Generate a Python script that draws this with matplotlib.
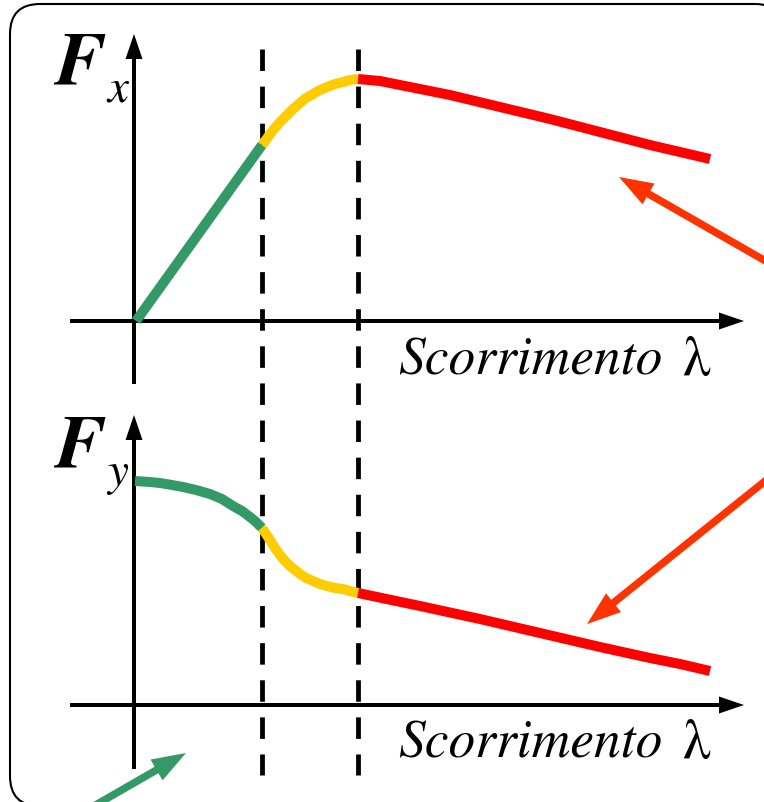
import matplotlib.pyplot as plt
import numpy as np
from matplotlib.patches import FancyArrow, FancyBboxPatch

# Pixel-space canvas
W, H = 764, 803

GREEN = "#339966"
YELLOW = "#FFCC00"
RED = "#FF0000"
ARROW_RED = "#FF3300"

# Fx(lambda): linear, transition, sliding
fx_green_x = [136, 262]
fx_green_y = [322, 146]
fx_yellow_x = [262, 268, 273, 280, 287, 293, 300, 306, 313, 320, 327, 335, 343, 350, 358]
fx_yellow_y = [146, 138, 131, 123, 116, 110, 104, 99, 95, 91, 88, 85, 83, 81, 80]
fx_red_x = [358, 380, 400, 425, 450, 475, 500, 550, 600, 650, 710]
fx_red_y = [80, 82, 86, 91, 96, 102, 108, 120, 133, 146, 160]

# Fy(lambda)
fy_green_x = [135, 150, 160, 172, 183, 196, 210, 222, 233, 242, 250, 256, 262]
fy_green_y = [482, 483, 484, 486, 488, 491, 495, 500, 507, 512, 518, 523, 529]
fy_yellow_x = [262, 266, 270, 275, 280, 285, 290, 295, 300, 306, 313, 320, 327, 335, 343, 350, 358]
fy_yellow_y = [529, 535, 541, 549, 556, 562, 567, 571, 575, 579, 582, 585, 587, 589, 590, 592, 594]
fy_red_x = [358, 420, 480, 540, 600, 650, 680, 710]
fy_red_y = [594, 607, 620, 634, 648, 659, 665, 672]

# zone boundaries
zone_x = [262, 358]

# pointer arrows (tail, tip)
pointers = [
    ((790, 276), (619, 178), ARROW_RED),
    ((790, 462), (587, 625), ARROW_RED),
    ((80, 815), (186, 754), GREEN),
]

fig = plt.figure(figsize=(W / 100, H / 100), dpi=100)
ax = fig.add_axes([0, 0, 1, 1])
ax.set_xlim(0, W)
ax.set_ylim(H, 0)
ax.axis("off")

# frame
ax.add_patch(FancyBboxPatch((10, 5), 775, 802,
                            boxstyle="round,pad=0,rounding_size=30",
                            fc="white", ec="black", lw=1.5, zorder=0))

px = 0.72  # points per pixel


def axis_arrow(x0, y0, x1, y1):
    ax.add_patch(FancyArrow(x0, y0, x1 - x0, y1 - y0, width=4, head_width=17,
                            head_length=25, length_includes_head=True,
                            fc="black", ec="none", zorder=3))


# top panel axes
axis_arrow(134, 385, 134, 35)
axis_arrow(70, 322, 744, 322)
# bottom panel axes
axis_arrow(134, 770, 134, 416)
axis_arrow(70, 706, 744, 706)

for xv in zone_x:
    ax.plot([xv, xv], [50, 776], color="black", lw=4.8 * px,
            ls=(0, (4.48, 3.25)), dash_capstyle="butt", zorder=2)

for xs, ys, c in [(fx_green_x, fx_green_y, GREEN),
                  (fx_yellow_x, fx_yellow_y, YELLOW),
                  (fx_red_x, fx_red_y, RED),
                  (fy_green_x, fy_green_y, GREEN),
                  (fy_yellow_x, fy_yellow_y, YELLOW),
                  (fy_red_x, fy_red_y, RED)]:
    ax.plot(xs, ys, color=c, lw=10 * px, solid_capstyle="butt",
            solid_joinstyle="round", zorder=4)

for (tx, ty), (hx, hy), c in pointers:
    ax.add_patch(FancyArrow(tx, ty, hx - tx, hy - ty, width=7.5, head_width=24,
                            head_length=34, length_includes_head=True,
                            fc=c, ec="none", zorder=5))

serif = "STIXGeneral"
# axis names
ax.text(55, 84, "F", fontsize=55, family=serif, style="italic",
        weight="bold", va="baseline", ha="left")
ax.text(107, 101, "x", fontsize=34, family=serif, style="italic",
        va="baseline", ha="left")
ax.text(55, 468, "F", fontsize=55, family=serif, style="italic",
        weight="bold", va="baseline", ha="left")
ax.text(107, 485, "y", fontsize=34, family=serif, style="italic",
        va="baseline", ha="left")

for base in [375, 758]:
    ax.text(398, base, "Scorrimento", fontsize=38.5, family=serif,
            style="italic", va="baseline", ha="left")
    ax.text(710, base, "λ", fontsize=40, family=serif,
            va="baseline", ha="right")

fig.savefig("out.png", dpi=100)
